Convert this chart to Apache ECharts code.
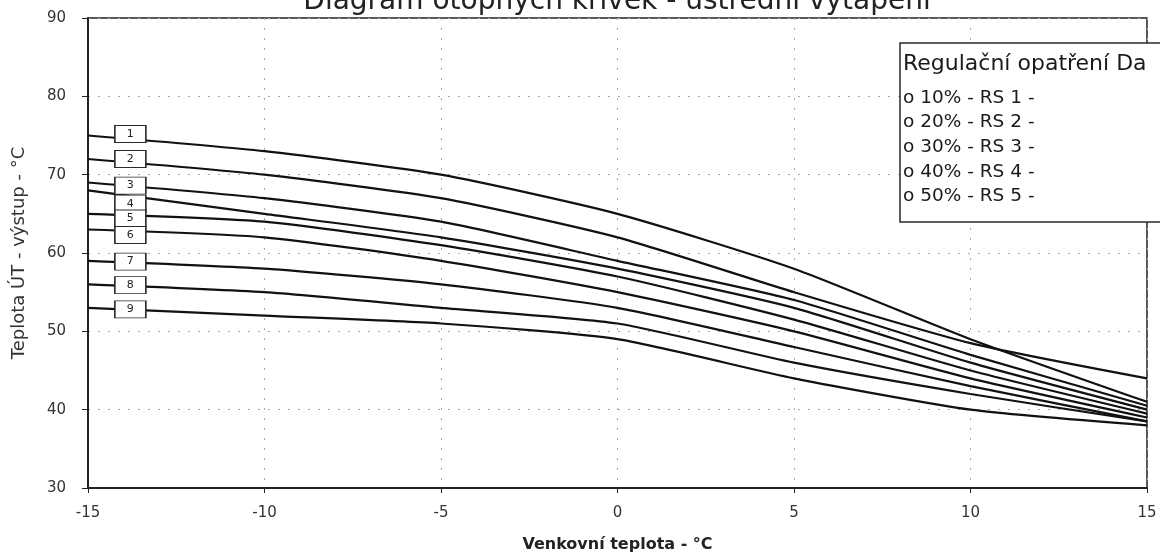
<!DOCTYPE html>
<html>
<head>
<meta charset="utf-8">
<title>Diagram otopných křivek</title>
<script src="https://cdn.jsdelivr.net/npm/echarts@6/dist/echarts.min.js"></script>
<style>
html, body { margin: 0; padding: 0; background: #fff; }
#chart { width: 1160px; height: 555px; }
</style>
</head>
<body>
<div id="chart"></div>
<script>
// venkovni teplota (osa x)
const outdoor = [-15, -10, -5, 0, 5, 10, 15];
// otopne krivky 1..9 - teplota UT vystup
const curve1 = [75, 73, 70, 65, 58, 49, 41];
const curve2 = [72, 70, 67, 62, 55, 48.5, 44];
const curve3 = [69, 67, 64, 59, 54, 47, 40.5];
const curve4 = [68, 65, 62, 58, 53, 46, 40];
const curve5 = [65, 64, 61, 57, 51.5, 45, 39.5];
const curve6 = [63, 62, 59, 55, 50, 44, 39];
const curve7 = [59, 58, 56, 53, 48, 43, 38.5];
const curve8 = [56, 55, 53, 51, 46, 42, 38.5];
const curve9 = [53, 52, 51, 49, 44, 40, 38];
const curveNames = ['1', '2', '3', '4', '5', '6', '7', '8', '9'];
// stitky krivek (cisla v rameckach)
const tagX = -13.8;
const tagY = [75.2, 72, 68.6, 66.3, 64.4, 62.3, 58.9, 55.9, 52.8];
// osy
const yTicks = [30, 40, 50, 60, 70, 80, 90];
const chartTitle = 'Diagram otopných křivek - ústřední vytápění';
const xName = 'Venkovní teplota - °C';
const yName = 'Teplota ÚT - výstup - °C';
const legendTitle = 'Regulační opatření Da';
const legendItems = ['o 10% - RS 1 -', 'o 20% - RS 2 -', 'o 30% - RS 3 -', 'o 40% - RS 4 -', 'o 50% - RS 5 -'];

const FONT = '"DejaVu Sans", Verdana, sans-serif';
const curves = [curve1, curve2, curve3, curve4, curve5, curve6, curve7, curve8, curve9];

let series = [];
curves.forEach((values, i) => {
	series.push({
		name: curveNames[i],
		type: 'line',
		data: values.map((v, k) => [outdoor[k], v]),
		symbol: 'none',
		smooth: 0.2,
		z: 3,
		lineStyle: { color: '#111', width: 2.2 },
	});
});
series.push({
	name: 'tags',
	type: 'scatter',
	z: 8,
	symbol: 'rect',
	symbolSize: [31, 17],
	itemStyle: { color: '#fff', borderColor: '#2a2a2a', borderWidth: 1.2, opacity: 1 },
	label: {
		show: true,
		position: 'inside',
		color: '#222',
		fontSize: 11,
		fontFamily: FONT,
		formatter: (p) => p.data[2],
	},
	data: tagY.map((v, i) => [tagX, v, curveNames[i]]),
});

let legendGraphics = [
	{
		type: 'rect',
		shape: { x: 900, y: 43, width: 320, height: 179 },
		style: { fill: '#fff', stroke: '#2a2a2a', lineWidth: 1.5 },
		z: 100,
	},
	{
		type: 'text',
		x: 903, y: 64,
		style: { text: legendTitle, fill: '#1a1a1a', font: '22px ' + FONT, verticalAlign: 'middle' },
		z: 101,
	},
];
legendItems.forEach((t, i) => {
	legendGraphics.push({
		type: 'text',
		x: 903, y: 98 + i * 24.6,
		style: { text: t, fill: '#1a1a1a', font: '18.5px ' + FONT, verticalAlign: 'middle' },
		z: 101,
	});
});

let option = {
	backgroundColor: '#fff',
	animation: false,
	title: {
		text: chartTitle,
		left: 612,
		textAlign: 'center',
		top: -17,
		textStyle: { color: '#222', fontSize: 28, fontWeight: 'normal', fontFamily: FONT },
	},
	grid: {
		left: 88,
		right: 13,
		top: 18,
		bottom: 67,
		show: true,
		borderColor: '#222',
		borderWidth: 1.5,
		containLabel: false,
		outerBoundsMode: 'none',
	},
	xAxis: {
		type: 'value',
		min: -15,
		max: 15,
		interval: 5,
		name: xName,
		nameLocation: 'middle',
		nameGap: 49,
		nameTextStyle: { color: '#222', fontSize: 16, fontWeight: 'bold', fontFamily: FONT },
		axisLine: { show: true, onZero: false, lineStyle: { color: '#222', width: 2 } },
		axisTick: { show: true, length: 5, lineStyle: { color: '#222' } },
		axisLabel: { color: '#333', fontSize: 15, margin: 18, fontFamily: FONT },
		splitLine: { show: true, lineStyle: { color: '#a8a8a8', type: [2, 8], width: 1 } },
	},
	yAxis: {
		type: 'value',
		min: 30,
		max: 90,
		interval: 10,
		name: yName,
		nameLocation: 'middle',
		nameGap: 60,
		nameTextStyle: { color: '#333', fontSize: 18, fontFamily: FONT },
		axisLine: { show: true, onZero: false, lineStyle: { color: '#222', width: 2 } },
		axisTick: { show: true, length: 6, lineStyle: { color: '#222' } },
		axisLabel: {
			color: '#333', fontSize: 15, margin: 22, fontFamily: FONT,
			formatter: (v) => (yTicks.indexOf(v) >= 0 ? String(v) : ''),
		},
		splitLine: { show: true, lineStyle: { color: '#a8a8a8', type: [2, 8], width: 1 } },
	},
	graphic: legendGraphics,
	series: series,
};

let myChart = echarts.init(document.getElementById('chart'), null, { renderer: 'canvas' });
myChart.setOption(option);
</script>
</body>
</html>
